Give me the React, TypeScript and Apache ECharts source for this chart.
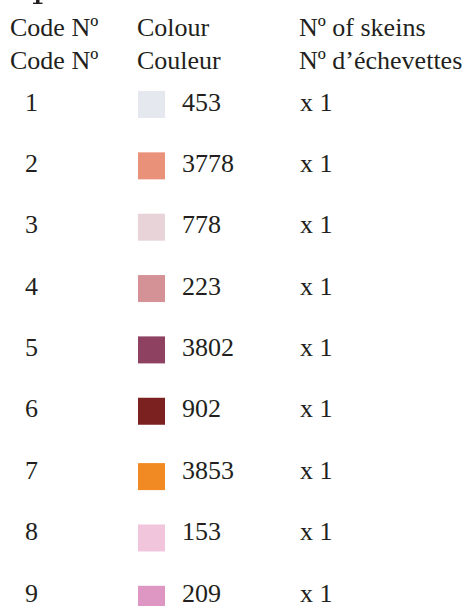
import React, { useEffect, useRef } from "react";
import * as echarts from "echarts";

const rowNumbers = [1, 2, 3, 4, 5, 6, 7, 8, 9];
const dmcCodes = ["453", "3778", "778", "223", "3802", "902", "3853", "153", "209"];
const swatchColors = [
  "#e6e8f0",
  "#ea917a",
  "#e8d3d8",
  "#d49196",
  "#8e4160",
  "#7b2120",
  "#f28a24",
  "#f1c6dd",
  "#de97c2",
];
const skeinCounts = [1, 1, 1, 1, 1, 1, 1, 1, 1];
const headerLine1 = ["Code Nº", "Colour", "Nº of skeins"];
const headerLine2 = ["Code Nº", "Couleur", "Nº d’échevettes"];

const FAMILY = "Liberation Serif";
const SIZE = 26;
const INK = "#231f20";
const COL_X = [10, 137, 299];

const txt = (text: string) => ({
  text,
  fontFamily: FAMILY,
  fontSize: SIZE,
  fill: INK,
  verticalAlign: "middle",
  textAlign: "left",
});

export default function App() {
  const ref = useRef<HTMLDivElement>(null);

  useEffect(() => {
    document.body.style.margin = "0";
    if (!ref.current) return;
    const chart = echarts.init(ref.current, undefined, { renderer: "svg" });

    const data = rowNumbers.map((n, i) => [0, n, i]);

    const graphics: any[] = [];
    [headerLine1, headerLine2].forEach((line, li) => {
      line.forEach((t, ci) => {
        graphics.push({
          type: "text",
          x: COL_X[ci],
          y: 27 + li * 33,
          silent: true,
          style: txt(t),
        });
      });
    });
    // fragment of a heading cut by the top edge
    graphics.push({
      type: "rect",
      silent: true,
      shape: { x: 36, y: 0, width: 3.5, height: 4 },
      style: { fill: INK },
    });
    graphics.push({
      type: "rect",
      silent: true,
      shape: { x: 33, y: 2.6, width: 9.5, height: 1.4 },
      style: { fill: INK },
    });

    chart.setOption({
      animation: false,
      backgroundColor: "#ffffff",
      grid: { left: 0, right: 0, top: 102.2, bottom: 606 - (102.2 + 8 * 61.35) },
      xAxis: { type: "value", min: 0, max: 466, show: false },
      yAxis: { type: "value", min: 1, max: 9, inverse: true, show: false },
      graphic: graphics,
      series: [
        {
          type: "custom",
          clip: false,
          data,
          encode: { x: 0, y: 1 },
          renderItem: (params: any, api: any) => {
            const idx = api.value(2) as number;
            const pt = api.coord([0, api.value(1)]);
            const y = pt[1];
            const swShift = idx >= 6 ? 6.3 : 2.3;
            return {
              type: "group",
              children: [
                { type: "text", x: 25, y, style: txt(String(rowNumbers[idx])) },
                {
                  type: "rect",
                  shape: { x: 138, y: y + swShift - 13.5, width: 27, height: 27 },
                  style: { fill: swatchColors[idx] },
                },
                { type: "text", x: 182, y, style: txt(dmcCodes[idx]) },
                { type: "text", x: 300, y, style: txt("x " + skeinCounts[idx]) },
              ],
            };
          },
        },
      ],
    });

    return () => chart.dispose();
  }, []);

  return <div ref={ref} style={{ width: 466, height: 606 }} />;
}
